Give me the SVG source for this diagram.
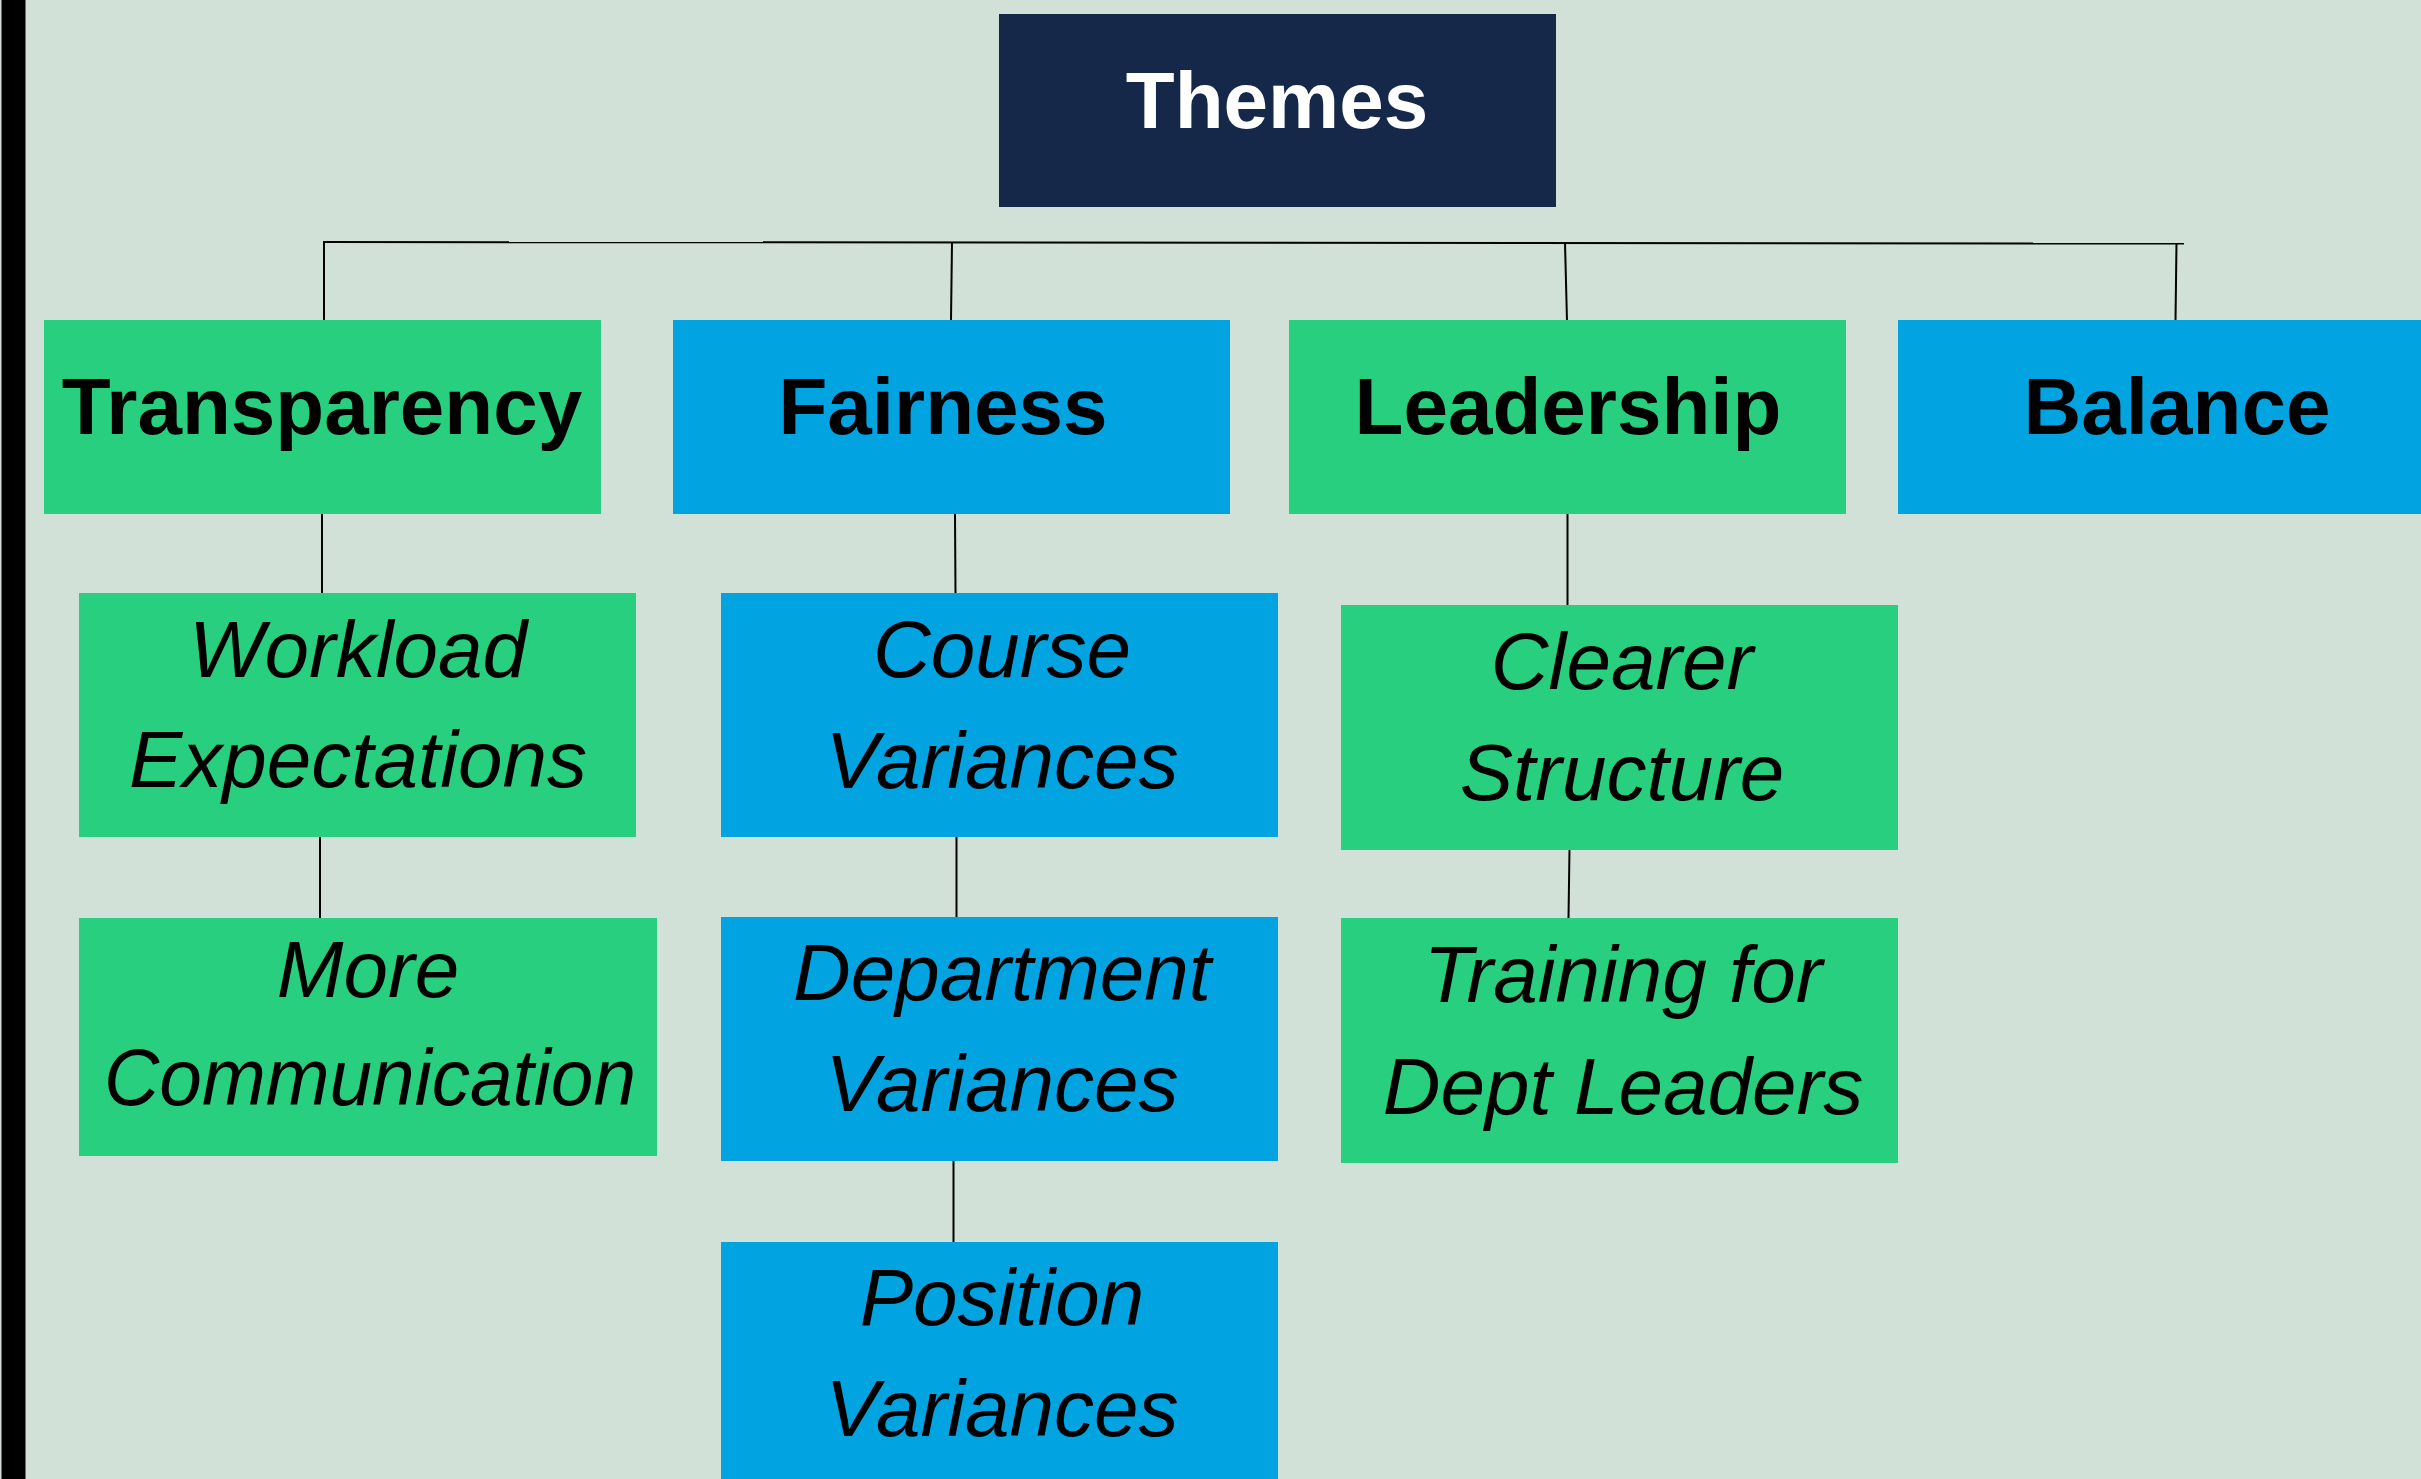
<svg xmlns="http://www.w3.org/2000/svg" width="2421" height="1479" viewBox="0 0 2421 1479">
  <style>
    .green { fill: #28CF7F; }
    .blue { fill: #02A3E1; }
    .navy { fill: #152849; }
    .head { font-family: "Liberation Sans", Arial, sans-serif; font-weight: bold; font-size: 80px; text-anchor: middle; fill: #000; }
    .title { fill: #fff; }
    .sub { font-family: "Liberation Sans", Arial, sans-serif; font-style: italic; font-size: 80px; text-anchor: middle; fill: #000; }
    .conn line { stroke: #000; stroke-width: 2; }
  </style>

  <!-- page background and left border bar -->
  <rect x="0" y="0" width="2421" height="1479" fill="#D1E1D7"/>
  <rect x="1.5" y="0" width="24" height="1479" fill="#000"/>

  <!-- connectors -->
  <g id="connectors" class="conn">
    <line x1="323" y1="242" x2="2184" y2="243.5"/>
    <line x1="324" y1="242" x2="324" y2="321"/>
    <line x1="952" y1="242" x2="951" y2="321"/>
    <line x1="1565" y1="243" x2="1567" y2="321"/>
    <line x1="2176.5" y1="243" x2="2175.5" y2="321"/>
    <line x1="322" y1="513" x2="322" y2="593"/>
    <line x1="320" y1="837" x2="320" y2="918"/>
    <line x1="955" y1="513" x2="955.5" y2="593"/>
    <line x1="956.5" y1="837" x2="956.5" y2="917"/>
    <line x1="953.5" y1="1161" x2="953.5" y2="1242"/>
    <line x1="1567.5" y1="513" x2="1567.5" y2="605"/>
    <line x1="1569.5" y1="849" x2="1568.5" y2="918"/>
  </g>

  <!-- root -->
  <g id="node-themes">
    <rect class="navy" x="999" y="14" width="557" height="193"/>
    <text class="head title" x="1277" y="128">Themes</text>
  </g>

  <!-- first level -->
  <g id="node-transparency">
    <rect class="green" x="44" y="320" width="557" height="194"/>
    <text class="head" x="322" y="434">Transparency</text>
  </g>
  <g id="node-fairness">
    <rect class="blue" x="673" y="320" width="557" height="194"/>
    <text class="head" x="943" y="434">Fairness</text>
  </g>
  <g id="node-leadership">
    <rect class="green" x="1289" y="320" width="557" height="194"/>
    <text class="head" x="1568" y="434">Leadership</text>
  </g>
  <g id="node-balance">
    <rect class="blue" x="1898" y="320" width="557" height="194"/>
    <text class="head" x="2177" y="434">Balance</text>
  </g>

  <!-- Transparency branch -->
  <g id="node-workload">
    <rect class="green" x="79" y="593" width="557" height="244"/>
    <text class="sub" x="358" y="677">Workload</text>
    <text class="sub" x="358" y="787">Expectations</text>
  </g>
  <g id="node-communication">
    <rect class="green" x="79" y="918" width="578" height="238"/>
    <text class="sub" x="368" y="997">More</text>
    <text class="sub" x="370" y="1105" textLength="532" lengthAdjust="spacingAndGlyphs">Communication</text>
  </g>

  <!-- Fairness branch -->
  <g id="node-course">
    <rect class="blue" x="721" y="593" width="557" height="244"/>
    <text class="sub" x="1002" y="677">Course</text>
    <text class="sub" x="1002" y="788">Variances</text>
  </g>
  <g id="node-department">
    <rect class="blue" x="721" y="917" width="557" height="244"/>
    <text class="sub" x="1002" y="1000">Department</text>
    <text class="sub" x="1002" y="1111">Variances</text>
  </g>
  <g id="node-position">
    <rect class="blue" x="721" y="1242" width="557" height="244"/>
    <text class="sub" x="1002" y="1325">Position</text>
    <text class="sub" x="1002" y="1436">Variances</text>
  </g>

  <!-- Leadership branch -->
  <g id="node-structure">
    <rect class="green" x="1341" y="605" width="557" height="245"/>
    <text class="sub" x="1622" y="689">Clearer</text>
    <text class="sub" x="1622" y="800">Structure</text>
  </g>
  <g id="node-training">
    <rect class="green" x="1341" y="918" width="557" height="245"/>
    <text class="sub" x="1623" y="1002">Training for</text>
    <text class="sub" x="1623" y="1114">Dept Leaders</text>
  </g>
</svg>
